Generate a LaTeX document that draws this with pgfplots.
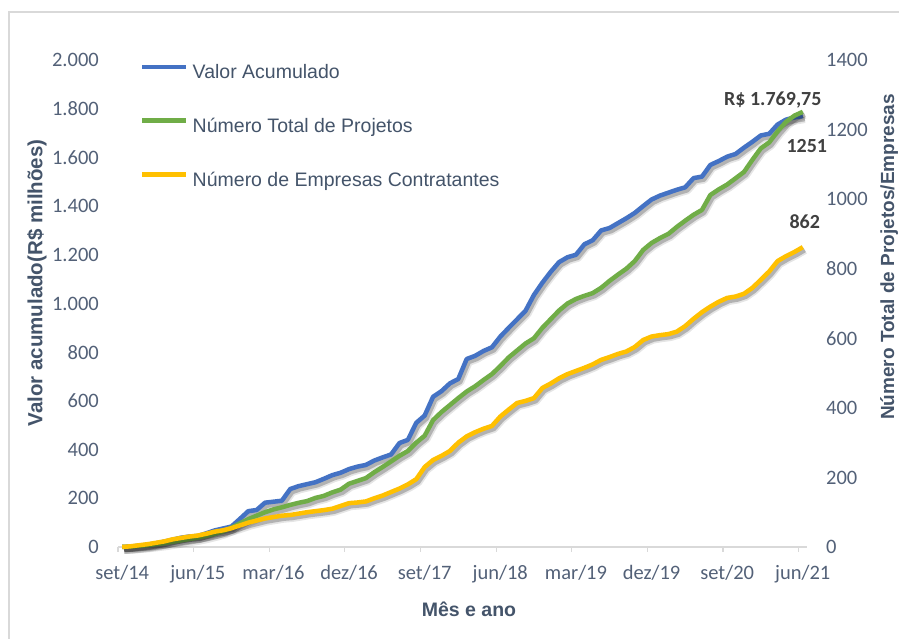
\documentclass[border=0pt]{standalone}
\usepackage{pgfplots}
\pgfplotsset{compat=1.18}
\usepackage{pgfplotstable}
\usepackage{fontspec}
\setmainfont{Liberation Sans}
\newfontfamily\tickfont{Carlito}
\definecolor{serA}{HTML}{4472C4}
\definecolor{serB}{HTML}{70AD47}
\definecolor{serC}{HTML}{FFC000}
\definecolor{txt}{HTML}{44546A}
\definecolor{ticktxt}{HTML}{536178}
\definecolor{labtxt}{HTML}{404040}
\definecolor{axgray}{HTML}{D9D9D9}
\definecolor{frame}{HTML}{D9D9D9}

\pgfplotstableread{
x v p e
0.5 0 0 0
1.5 2 1 2
2.5 5 3 5
3.5 9 5 8
4.5 15 8 12
5.5 22 11 16
6.5 30 15 22
7.5 38 19 26
8.5 43 23 30
9.5 45 27 33
10.5 56 32 38
11.5 68 38 44
12.5 76 45 48
13.5 84 55 54
14.5 115 68 62
15.5 147 80 70
16.5 152 90 76
17.5 182 100 82
18.5 186 108 86
19.5 190 114 90
20.5 238 121 92
21.5 250 127 96
22.5 258 132 100
23.5 266 141 103
24.5 280 147 106
25.5 295 157 110
26.5 305 165 118
27.5 320 182 126
28.5 330 190 128
29.5 337 198 131
30.5 355 215 140
31.5 368 230 148
32.5 380 246 158
33.5 427 262 168
34.5 440 276 180
35.5 510 300 195
36.5 540 320 230
37.5 617 365 250
38.5 640 388 262
39.5 672 408 276
40.5 690 428 300
41.5 772 447 318
42.5 785 462 330
43.5 805 480 340
44.5 820 497 348
45.5 864 520 375
46.5 900 545 395
47.5 935 565 414
48.5 970 585 420
49.5 1035 600 428
50.5 1085 630 457
51.5 1130 655 470
52.5 1170 680 485
53.5 1190 700 497
54.5 1200 713 506
55.5 1243 722 515
56.5 1260 730 525
57.5 1300 745 538
58.5 1310 765 546
59.5 1330 783 555
60.5 1350 800 562
61.5 1372 822 575
62.5 1400 854 595
63.5 1427 874 605
64.5 1443 888 609
65.5 1455 900 612
66.5 1467 920 619
67.5 1477 938 635
68.5 1515 955 656
69.5 1521 969 675
70.5 1569 1012 691
71.5 1585 1028 705
72.5 1603 1042 716
73.5 1614 1060 720
74.5 1640 1078 728
75.5 1664 1113 745
76.5 1690 1146 768
77.5 1697 1163 792
78.5 1735 1195 822
79.5 1755 1222 836
80.5 1764 1240 848
81.5 1769.75 1251 862
}\datatable

\pgfplotsset{
  base/.style={
    scale only axis, width=689pt, height=487pt,
    at={(118pt,92pt)}, anchor=south west,
    xmin=0, xmax=82, ymin=0,
    major tick length=0pt,
    ytick style={draw=none},
    y axis line style={draw=none},
    yticklabel style={font=\tickfont\fontsize{20.5}{23}\selectfont, text=ticktxt, inner sep=0pt},
    clip=false,
  },
  shadowA/.style={black, opacity=0.10, line width=8pt, xshift=2pt, yshift=-3pt, forget plot, line join=round},
  shadowB/.style={black, opacity=0.22, line width=4.5pt, xshift=2pt, yshift=-3pt, forget plot, line join=round},
}

\begin{document}
\begin{tikzpicture}
\useasboundingbox (0pt,0pt) rectangle (899pt,639pt);
\fill[white] (0pt,0pt) rectangle (899pt,639pt);
\draw[frame, line width=1.2pt] (9pt,-20pt) -- (9pt,627pt) -- (920pt,627pt);

% left axis: Valor acumulado
\begin{axis}[base,
  ymax=2000,
  axis x line*=bottom, axis y line*=left,
  x axis line style={draw=axgray, line width=1.2pt},
  xtick={0.5,9.5,...,81.5},
  xticklabels={set/14,jun/15,mar/16,dez/16,set/17,jun/18,mar/19,dez/19,set/20,jun/21},
  minor xtick={0,9,...,81},
  minor tick length=5pt, tick align=outside,
  minor x tick style={draw=axgray, line width=1.2pt},
  major x tick style={draw=none},
  xticklabel style={font=\tickfont\fontsize{20.5}{23}\selectfont, text=ticktxt, inner sep=0pt, anchor=north, text height=13.5pt, text depth=4pt, yshift=-19pt},
  ytick={0,200,...,2000},
  yticklabels={0,200,400,600,800,1.000,1.200,1.400,1.600,1.800,2.000},
  yticklabel style={anchor=east, xshift=-19pt},
]
\addplot[shadowA] table[x=x,y=v]{\datatable};
\addplot[shadowB] table[x=x,y=v]{\datatable};
\addplot[serA, line width=4.5pt, line join=round, mark=none] table[x=x,y=v]{\datatable};
\node[font=\tickfont\bfseries\fontsize{20}{24}\selectfont, text=labtxt, xshift=-30pt, yshift=16pt] at (axis cs:81.5,1769.75) {R\$ 1.769,75};
\end{axis}

% right axis: projetos / empresas
\begin{axis}[base,
  ymax=1400,
  hide x axis,
  axis y line*=right,
  ytick={0,200,...,1400},
  yticklabels={0,200,400,600,800,1000,1200,1400},
  yticklabel style={anchor=west, xshift=19pt},
  legend style={at={(0.032,0.991)}, anchor=north west, draw=none, fill=none, inner sep=0pt,
    row sep=35.5pt, font=\fontsize{19.5}{22}\selectfont, text=txt,
    nodes={inner sep=0pt, text height=14pt, text depth=4pt},
    /tikz/every odd column/.append style={column sep=4pt}},
  legend cell align=left,
  legend image code/.code={\draw[#1, line width=4.5pt] (0pt,7pt) -- (44pt,7pt);},
]
\addlegendimage{serA}
\addlegendentry{Valor Acumulado}
\addplot[shadowA] table[x=x,y=p]{\datatable};
\addplot[shadowB] table[x=x,y=p]{\datatable};
\addplot[serB, line width=4.5pt, line join=round, mark=none] table[x=x,y=p]{\datatable};
\addlegendentry{Número Total de Projetos}
\addplot[shadowA] table[x=x,y=e]{\datatable};
\addplot[shadowB] table[x=x,y=e]{\datatable};
\addplot[serC, line width=4.5pt, line join=round, mark=none] table[x=x,y=e]{\datatable};
\addlegendentry{Número de Empresas Contratantes}
\node[font=\tickfont\bfseries\fontsize{20}{24}\selectfont, text=labtxt, xshift=4pt, yshift=-34pt] at (axis cs:81.5,1251) {1251};
\node[font=\tickfont\bfseries\fontsize{20}{24}\selectfont, text=labtxt, xshift=2pt, yshift=25pt] at (axis cs:81.5,862) {862};
\end{axis}

\node[rotate=90, font=\bfseries\fontsize{20.5}{24}\selectfont, text=txt] at (37pt,356pt) {Valor acumulado(R\$ milhões)};
\node[rotate=90, font=\bfseries\fontsize{19}{22}\selectfont, text=txt] at (889pt,382pt) {Número Total de Projetos/Empresas};
\node[font=\bfseries\fontsize{19.5}{22}\selectfont, text=txt] at (469pt,30pt) {Mês e ano};
\end{tikzpicture}
\end{document}
